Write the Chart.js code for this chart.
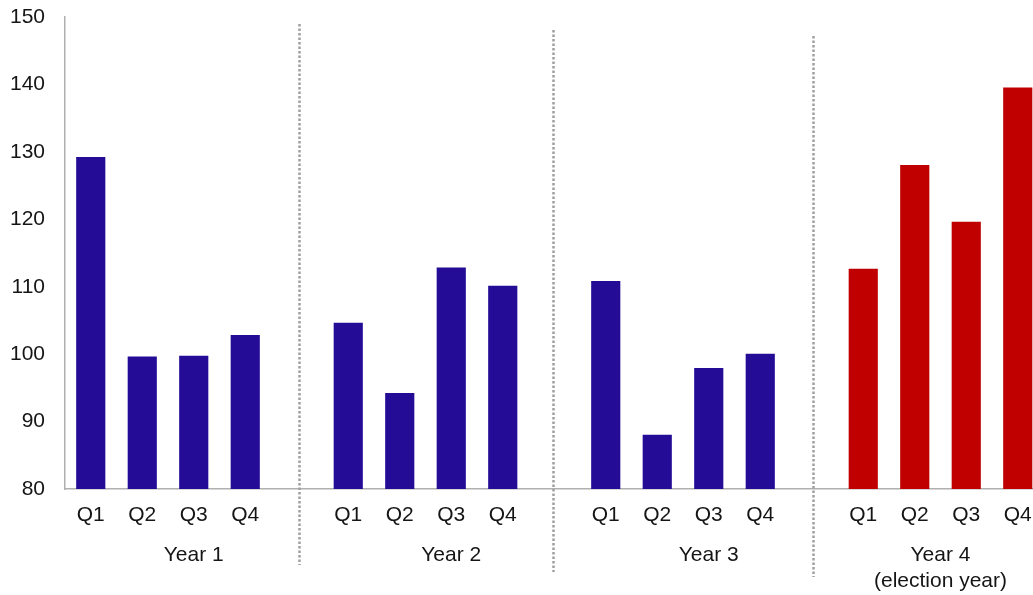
<!DOCTYPE html>
<html>
<head>
<meta charset="utf-8">
<script src="https://cdn.jsdelivr.net/npm/chart.js@4"></script>
<style>
  html, body { margin: 0; padding: 0; background: #fff; overflow: hidden; }
  #wrap { width: 1033px; height: 595px; }
</style>
</head>
<body>
<div id="wrap"><canvas id="chart"></canvas></div>
<script>
// data
const quarters = ['Q1', 'Q2', 'Q3', 'Q4'];
const years = ['Year 1', 'Year 2', 'Year 3', ['Year 4', '(election year)']];
const year1 = [129.2, 99.6, 99.7, 102.8];
const year2 = [104.6, 94.2, 112.8, 110.1];
const year3 = [110.8, 88.0, 97.9, 100.0];
const year4 = [112.6, 128.0, 119.6, 139.5];
const yTicks = [80, 90, 100, 110, 120, 130, 140, 150];

const BLUE = '#240c96';
const RED = '#c00000';
const FONT = "'Liberation Sans', Arial, sans-serif";
const TEXT = '#151515';

// each year takes 4 slots plus one empty slot as a gap
const slot = (yearIdx, q) => yearIdx * 5 + q;
const series = [year1, year2, year3, year4];
const datasets = series.map((vals, yi) => ({
  label: Array.isArray(years[yi]) ? years[yi][0] : years[yi],
  data: vals.map((v, q) => ({ x: slot(yi, q), y: v })),
  backgroundColor: yi === 3 ? RED : BLUE,
  barThickness: 28.5,
  grouped: false,
}));

const quarterSlots = [];
series.forEach((vals, yi) => vals.forEach((v, q) => quarterSlots.push(slot(yi, q))));

// where the year captions and dotted separators sit (in slot units)
const yearLabelAt = [2, 7, 12, 16.5];
const separators = [
  { at: 4.04, top: 24, bottom: 565 },
  { at: 8.97, top: 30, bottom: 572 },
  { at: 14.02, top: 36, bottom: 577 },
];

const extras = {
  id: 'extras',
  afterDraw(chart) {
    const { ctx, scales: { x } } = chart;
    ctx.save();
    ctx.strokeStyle = '#a0a0a0';
    ctx.lineWidth = 2.5;
    ctx.setLineDash([2.5, 2]);
    separators.forEach(s => {
      const px = Math.round(x.getPixelForValue(s.at)) + 0.5;
      ctx.beginPath();
      ctx.moveTo(px, s.top);
      ctx.lineTo(px, s.bottom);
      ctx.stroke();
    });
    ctx.setLineDash([]);
    ctx.fillStyle = TEXT;
    ctx.font = '21px ' + FONT;
    ctx.textAlign = 'center';
    ctx.textBaseline = 'middle';
    years.forEach((lab, i) => {
      const px = x.getPixelForValue(yearLabelAt[i]);
      const lines = Array.isArray(lab) ? lab : [lab];
      lines.forEach((t, k) => ctx.fillText(t, px, 555 + k * 26));
    });
    ctx.restore();
  }
};

new Chart(document.getElementById('chart'), {
  type: 'bar',
  data: { datasets },
  options: {
    responsive: true,
    maintainAspectRatio: false,
    animation: false,
    layout: { padding: { top: 17, right: 0, bottom: 0, left: 0 } },
    plugins: { legend: { display: false }, tooltip: { enabled: false } },
    scales: {
      x: {
        type: 'linear',
        offset: false,
        min: -0.5,
        max: -0.5 + 968 / 51.5,
        grid: { display: false, drawTicks: false },
        border: { display: true, color: '#b0b0b0', width: 1.5 },
        afterBuildTicks: axis => { axis.ticks = quarterSlots.map(v => ({ value: v })); },
        afterFit: axis => { axis.height = 106; axis.paddingLeft = 0; axis.paddingRight = 0; },
        ticks: {
          autoSkip: false,
          maxRotation: 0,
          padding: 14,
          color: TEXT,
          font: { family: FONT, size: 21 },
          callback: v => quarters[v % 5],
        },
      },
      y: {
        min: 80,
        max: 150,
        grid: { display: false, drawTicks: false },
        border: { display: true, color: '#b0b0b0', width: 1.5 },
        afterBuildTicks: axis => { axis.ticks = yTicks.map(v => ({ value: v })); },
        afterFit: axis => { axis.width = 65; axis.paddingTop = 0; axis.paddingBottom = 0; },
        ticks: {
          padding: 20,
          color: TEXT,
          font: { family: FONT, size: 21 },
        },
      },
    },
  },
  plugins: [extras],
});
</script>
</body>
</html>
